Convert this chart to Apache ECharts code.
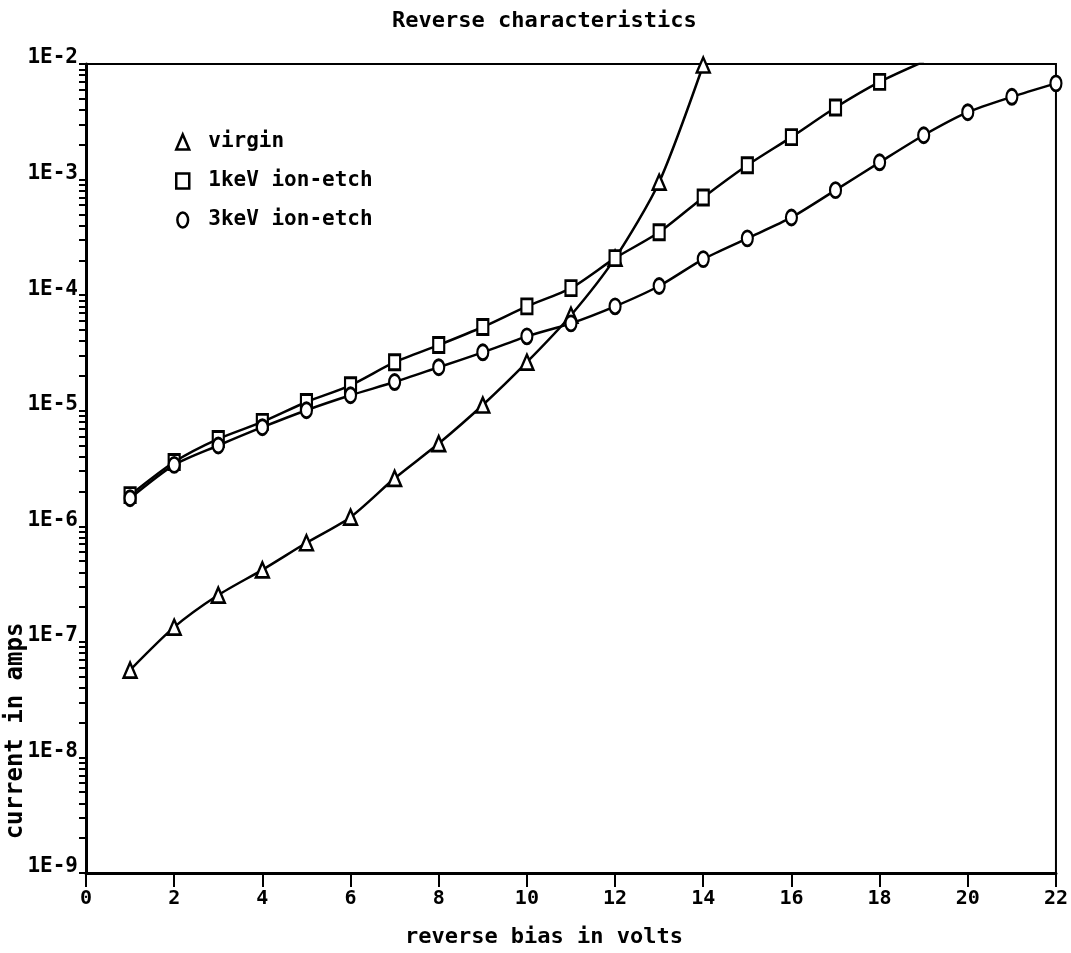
<!DOCTYPE html>
<html>
<head>
<meta charset="utf-8">
<title>Reverse characteristics</title>
<script src="https://cdn.jsdelivr.net/npm/echarts@6/dist/echarts.min.js"></script>
<style>
  html, body { margin: 0; padding: 0; background: #fff; }
  #chart { width: 1071px; height: 953px; }
</style>
</head>
<body>
<div id="chart"></div>
<script>
// reverse bias (volts) for each measured point
var volts = [1, 2, 3, 4, 5, 6, 7, 8, 9, 10, 11, 12, 13, 14, 15, 16, 17, 18, 19, 20, 21, 22]

// current in amps
var virgin = [5.7e-8, 1.34e-7, 2.54e-7, 4.2e-7, 7.2e-7, 1.2e-6, 2.6e-6, 5.2e-6, 1.12e-5, 2.63e-5,
  6.7e-5, 2.09e-4, 9.5e-4, 9.8e-3]
var ionEtch1keV = [1.86e-6, 3.6e-6, 5.7e-6, 8.0e-6, 1.19e-5, 1.66e-5, 2.63e-5, 3.7e-5, 5.3e-5, 8.0e-5,
  1.15e-4, 2.09e-4, 3.5e-4, 7.0e-4, 1.33e-3, 2.33e-3, 4.2e-3, 7.0e-3, 1.05e-2]
var ionEtch3keV = [1.75e-6, 3.4e-6, 5.0e-6, 7.2e-6, 1.01e-5, 1.36e-5, 1.77e-5, 2.38e-5, 3.2e-5, 4.4e-5,
  5.7e-5, 8.0e-5, 1.2e-4, 2.05e-4, 3.1e-4, 4.7e-4, 8.1e-4, 1.41e-3, 2.42e-3, 3.83e-3, 5.2e-3, 6.8e-3]

var seriesNames = ['virgin', '1keV ion-etch', '3keV ion-etch']

// decades shown on the y axis (exponents) and x tick step
var decades = [-9, -8, -7, -6, -5, -4, -3, -2]
var xTickStep = 2

var FONT = '"DejaVu Sans Mono", "Liberation Mono", monospace'
var OVAL = 'path://M5,0 A5,7 0 1,1 5,14 A5,7 0 1,1 5,0 Z'

function pairs(ys) {
  return ys.map(function(y, i) { return [volts[i], y] })
}

// log-spaced minor ticks (1..9 in every decade), in exponent units
var minorTicks = []
decades.forEach(function(d, i) {
  if (i === decades.length - 1) {
    minorTicks.push(d)
    return
  }
  for (var k = 1; k <= 9; k++) minorTicks.push(d + Math.log10(k))
})

var markerStyle = { color: '#fff', borderColor: '#000', borderWidth: 2.5 }

function makeSeries(name, data, symbol, size) {
  return {
    name: name,
    type: 'line',
    data: pairs(data),
    smooth: 0.25,
    symbol: symbol,
    symbolSize: size,
    showAllSymbol: true,
    lineStyle: { color: '#000', width: 2.5 },
    itemStyle: markerStyle,
    clip: true,
    animation: false
  }
}

var chart = echarts.init(document.getElementById('chart'))
chart.setOption({
  backgroundColor: '#fff',
  textStyle: { fontFamily: FONT, fontWeight: 'bold', color: '#000' },
  title: {
    text: 'Reverse characteristics',
    left: 392,
    top: 10,
    padding: 0,
    textStyle: { fontFamily: FONT, fontWeight: 'bold', fontSize: 22, color: '#000' }
  },
  legend: {
    orient: 'vertical',
    left: 170,
    top: 125,
    itemWidth: 13,
    itemHeight: 15,
    itemGap: 15,
    itemStyle: markerStyle,
    textStyle: { fontFamily: FONT, fontWeight: 'bold', fontSize: 21, lineHeight: 24, color: '#000', padding: [0, 0, 0, 14] },
    data: [
      { name: seriesNames[0], icon: 'triangle' },
      { name: seriesNames[1], icon: 'rect' },
      { name: seriesNames[2], icon: OVAL }
    ],
    selectedMode: false
  },
  grid: {
    left: 86,
    right: 14,
    top: 64,
    bottom: 80,
    show: true,
    borderColor: '#000',
    borderWidth: 2,
    backgroundColor: 'transparent'
  },
  xAxis: {
    type: 'value',
    min: 0,
    max: 22,
    interval: xTickStep,
    name: 'reverse bias in volts',
    nameLocation: 'middle',
    nameGap: 53,
    nameTextStyle: { fontFamily: FONT, fontWeight: 'bold', fontSize: 22, color: '#000', padding: [0, 54, 0, 0] },
    axisLine: { lineStyle: { color: '#000', width: 3 } },
    axisTick: { length: 14, lineStyle: { color: '#000', width: 2 } },
    axisLabel: { margin: 16, fontFamily: FONT, fontWeight: 'bold', fontSize: 20, color: '#000' },
    splitLine: { show: false }
  },
  yAxis: [{
    type: 'log',
    logBase: 10,
    min: Math.pow(10, decades[0]),
    max: Math.pow(10, decades[decades.length - 1]),
    interval: 1,
    axisLine: { lineStyle: { color: '#000', width: 3 } },
    axisTick: { show: false },
    axisLabel: {
      margin: 8,
      fontFamily: FONT,
      fontWeight: 'bold',
      fontSize: 21,
      color: '#000',
      verticalAlign: 'bottom',
      lineHeight: 12,
      formatter: function(v) { return '1E' + Math.round(Math.log10(v)) }
    },
    splitLine: { show: false },
    minorSplitLine: { show: false }
  }, {
    // exponent-space twin of the log axis, only used for the 1..9 ticks
    type: 'value',
    position: 'left',
    offset: 0,
    min: decades[0],
    max: decades[decades.length - 1],
    axisLine: { show: false },
    axisLabel: { show: false },
    axisTick: { show: true, length: 7, customValues: minorTicks, lineStyle: { color: '#000', width: 2 } },
    splitLine: { show: false }
  }],
  graphic: [{
    type: 'text',
    x: 16,
    y: 731,
    rotation: Math.PI / 2,
    style: {
      text: 'current in amps',
      font: 'bold 24px ' + FONT,
      fill: '#000',
      align: 'center',
      verticalAlign: 'middle'
    }
  }],
  series: [
    makeSeries(seriesNames[0], virgin, 'triangle', [13, 15]),
    makeSeries(seriesNames[1], ionEtch1keV, 'rect', [11, 15]),
    makeSeries(seriesNames[2], ionEtch3keV, OVAL, [11, 15])
  ]
})
</script>
</body>
</html>
